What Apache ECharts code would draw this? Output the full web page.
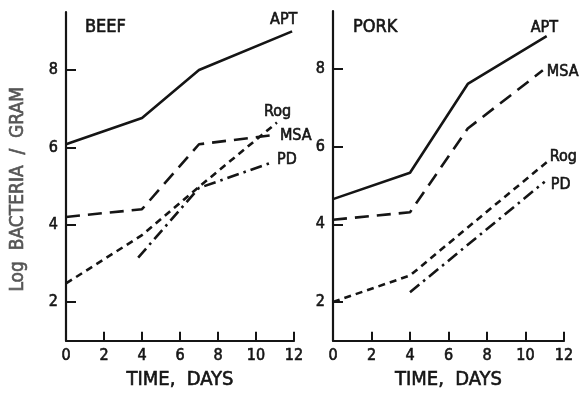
<!DOCTYPE html>
<html>
<head>
<meta charset="utf-8">
<script src="https://cdn.jsdelivr.net/npm/echarts@6/dist/echarts.min.js"></script>
<style>
  html, body { margin: 0; padding: 0; background: #fff; }
  #chart { width: 580px; height: 395px; }
</style>
</head>
<body>
<div id="chart"></div>
<script>
// Growth of bacteria on stored meat: log counts per gram over storage time
const xTicks = [0, 2, 4, 6, 8, 10, 12];
const yTicks = [2, 4, 6, 8];

// BEEF
const beefAptDays = [0, 4, 7, 11.9];
const beefApt     = [6.08, 6.76, 8.0, 9.0];
const beefMsaDays = [0, 4, 7, 11.1];
const beefMsa     = [4.2, 4.4, 6.08, 6.33];
const beefRogDays = [0, 4, 7, 11.1];
const beefRog     = [2.48, 3.73, 4.98, 6.64];
const beefPdDays  = [3.8, 7, 10.9];
const beefPd      = [3.15, 4.95, 5.62];

// PORK
const porkAptDays = [0, 4, 7, 11.1];
const porkApt     = [4.65, 5.33, 7.62, 8.85];
const porkMsaDays = [0, 4, 7, 10.9];
const porkMsa     = [4.12, 4.31, 6.47, 7.97];
const porkRogDays = [0, 4, 7, 11.1];
const porkRog     = [2.0, 2.68, 3.92, 5.6];
const porkPdDays  = [4, 11];
const porkPd      = [2.25, 5.1];

const FONT = '"DejaVu Sans Condensed", "Liberation Sans Narrow", sans-serif';
const INK = '#151515';

// slightly heavier strokes for the hand-lettered look
function ink(color, size) {
  return {
    color: color, fontFamily: FONT, fontSize: size, fontWeight: 'normal',
    textBorderColor: color, textBorderWidth: 0.6
  };
}

const styles = {
  APT: { type: 'solid', width: 2.6 },
  MSA: { type: [14, 8], width: 2.6 },
  Rog: { type: [7, 5], width: 2.6 },
  PD:  { type: [12, 5, 2.5, 5], width: 2.6 }
};

function pairs(days, vals) {
  return days.map((d, i) => [d, vals[i]]);
}

function line(name, grid, days, vals, offset) {
  return {
    type: 'line',
    name: name,
    xAxisIndex: grid,
    yAxisIndex: grid,
    data: pairs(days, vals),
    symbol: 'none',
    silent: true,
    animation: false,
    lineStyle: Object.assign({ color: INK, cap: 'butt' }, styles[name]),
    endLabel: Object.assign({
      show: true,
      formatter: name,
      distance: 0,
      offset: offset
    }, ink(INK, 16))
  };
}

function xAxis(grid) {
  return {
    type: 'value',
    gridIndex: grid,
    min: 0, max: 12, interval: 2,
    name: 'TIME,  DAYS',
    nameLocation: 'middle',
    nameGap: 29,
    nameTextStyle: ink(INK, 20),
    axisLine: { lineStyle: { color: INK, width: 2.2 } },
    axisTick: { inside: true, length: 9, lineStyle: { color: INK, width: 2 } },
    axisLabel: Object.assign({ margin: 7 }, ink(INK, 16)),
    splitLine: { show: false }
  };
}

function yAxis(grid, withName) {
  return {
    type: 'value',
    gridIndex: grid,
    min: 1, max: 9.5,
    name: withName ? 'Log  BACTERIA  /  GRAM' : '',
    nameLocation: 'middle',
    nameGap: 38,
    nameTextStyle: Object.assign({ padding: [0, 26, 0, 0] }, ink('#555555', 19)),
    axisLine: { show: true, lineStyle: { color: INK, width: 2.2 } },
    axisTick: { show: true, inside: true, length: 10, customValues: yTicks, lineStyle: { color: INK, width: 2 } },
    axisLabel: Object.assign({ margin: 8, customValues: yTicks }, ink(INK, 16)),
    splitLine: { show: false }
  };
}

const chart = echarts.init(document.getElementById('chart'), null, { renderer: 'canvas' });
chart.setOption({
  backgroundColor: '#fff',
  animation: false,
  title: [
    { text: 'BEEF', left: 80, top: 13, textStyle: ink(INK, 18) },
    { text: 'PORK', left: 348, top: 13, textStyle: ink(INK, 18) }
  ],
  grid: [
    { left: 66, top: 12, width: 228, height: 334 },
    { left: 333, top: 11, width: 231, height: 334 }
  ],
  xAxis: [xAxis(0), xAxis(1)],
  yAxis: [yAxis(0, true), yAxis(1, false)],
  series: [
    line('APT', 0, beefAptDays, beefApt, [-22, -11]),
    line('MSA', 0, beefMsaDays, beefMsa, [3, 1]),
    line('Rog', 0, beefRogDays, beefRog, [-13, -11]),
    line('PD',  0, beefPdDays,  beefPd,  [4, -2]),
    line('APT', 1, porkAptDays, porkApt, [-16, -8]),
    line('MSA', 1, porkMsaDays, porkMsa, [4, 1]),
    line('Rog', 1, porkRogDays, porkRog, [3, -5]),
    line('PD',  1, porkPdDays,  porkPd,  [6, 3])
  ]
});
</script>
</body>
</html>
